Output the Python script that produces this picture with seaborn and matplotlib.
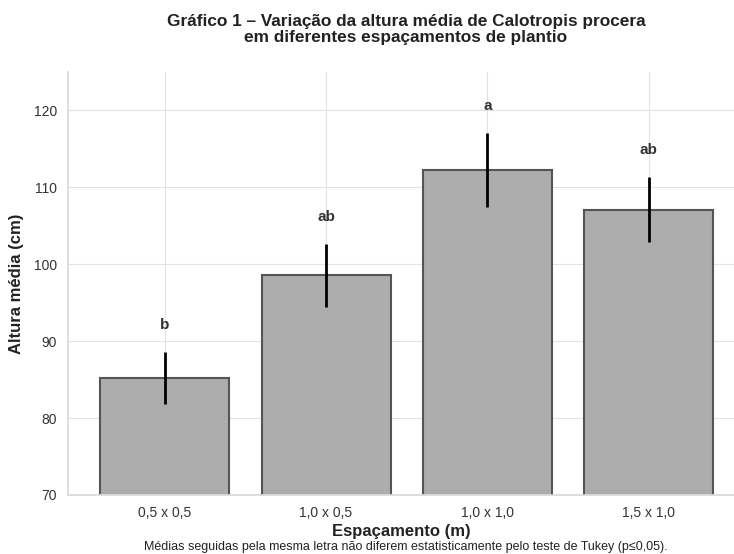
import matplotlib
matplotlib.use("Agg")
import matplotlib.pyplot as plt
import seaborn as sns
import pandas as pd

categories = ["0,5 x 0,5", "1,0 x 0,5", "1,0 x 1,0", "1,5 x 1,0"]
means = [85.2, 98.6, 112.3, 107.1]
sds = [3.4, 4.1, 4.8, 4.2]
letters = ["b", "ab", "a", "ab"]

df = pd.DataFrame({"esp": categories, "altura": means})

sns.set_theme(style="whitegrid")
plt.rcParams["font.family"] = ["Liberation Sans", "DejaVu Sans"]

fig = plt.figure(figsize=(7.34, 5.54), dpi=100)
ax = fig.add_axes([68/734, 59/554, (734-68)/734, (495-72)/554])

sns.barplot(data=df, x="esp", y="altura", color="#adadad", width=0.8,
            edgecolor="#555555", linewidth=1.5, ax=ax, saturation=1)
ax.errorbar(range(len(categories)), means, yerr=sds, fmt="none",
            ecolor="black", elinewidth=2, capsize=0, zorder=5)
for i, (m, s, l) in enumerate(zip(means, sds, letters)):
    ax.text(i, m + s + 3.5, l, ha="center", va="center",
            fontsize=11, fontweight="bold", color="#333333")

ax.set_ylim(70, 125)
ax.set_xlim(-0.6, 3.53)
ax.set_yticks([70, 80, 90, 100, 110, 120])
ax.tick_params(axis="both", labelsize=10, colors="#333333", pad=2)
ax.grid(True, color="#e3e3e3", linewidth=0.8)
ax.set_axisbelow(True)
for sp in ["left", "bottom"]:
    ax.spines[sp].set_color("#d9d9d9")
ax.spines["top"].set_visible(False)
ax.spines["right"].set_visible(False)
ax.set_xlabel("Espaçamento (m)", fontsize=12, fontweight="bold", color="#222222", labelpad=3)
ax.set_ylabel("Altura média (cm)", fontsize=12, fontweight="bold", color="#222222", labelpad=7)

fig.text(0.553, 0.947, "Gráfico 1 – Variação da altura média de Calotropis procera\nem diferentes espaçamentos de plantio",
         ha="center", va="center", fontsize=12.4, fontweight="bold", color="#222222", linespacing=1.05)
fig.text(0.553, 0.002, "Médias seguidas pela mesma letra não diferem estatisticamente pelo teste de Tukey (p≤0,05).",
         ha="center", va="bottom", fontsize=9, color="#222222")

fig.savefig("out.png", dpi=100)
